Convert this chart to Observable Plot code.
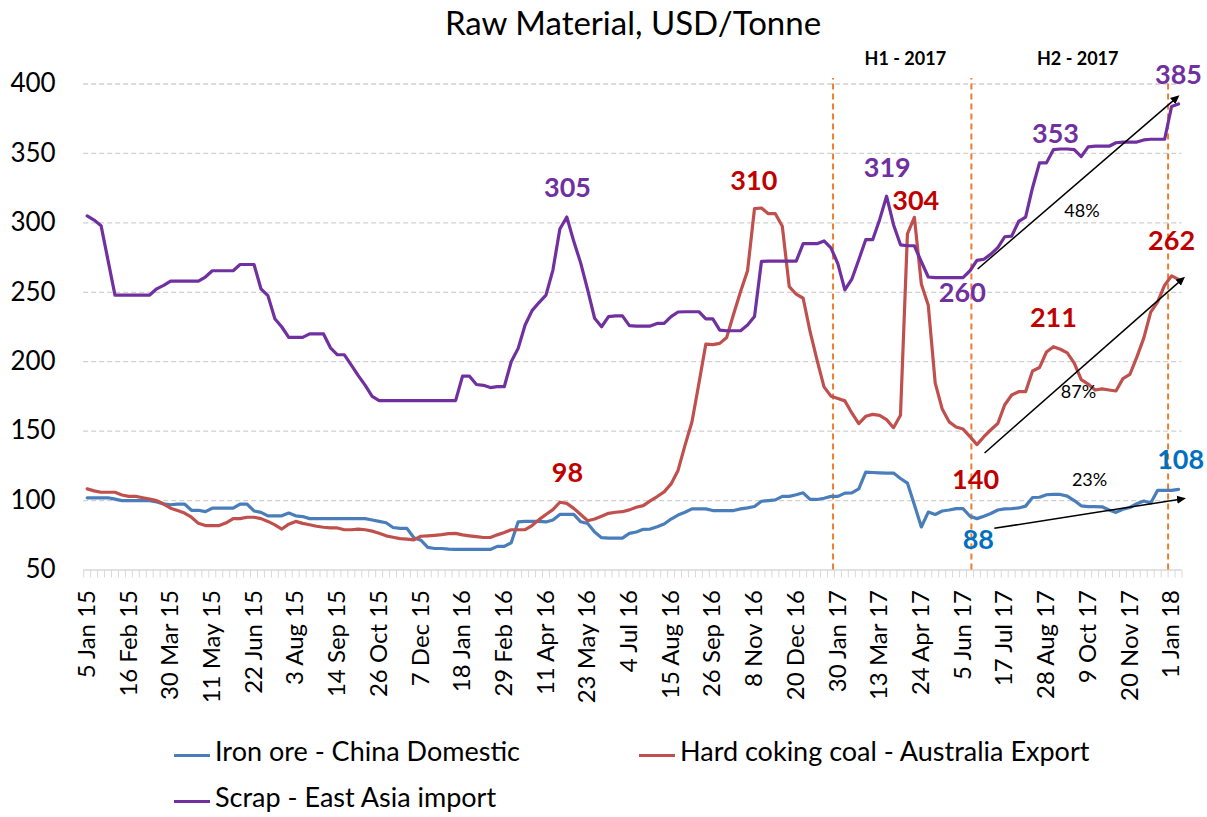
<!DOCTYPE html>
<html><head><meta charset="utf-8">
<script src="https://cdn.jsdelivr.net/npm/d3@7"></script>
<script src="https://cdn.jsdelivr.net/npm/@observablehq/plot@0.6"></script>
<style>
body{margin:0;background:#fff;font-family:Lato,"Open Sans",sans-serif;width:1207px;height:817px;overflow:hidden;position:relative;color:#000}
#title{position:absolute;left:0;top:1px;width:1266px;text-align:center;font-size:33px;line-height:42px}
#chart{position:absolute;left:0;top:42px}
.leg{position:absolute;font-size:27px;line-height:32px;white-space:nowrap}
.sw{display:inline-block;width:36px;height:3px;vertical-align:middle;margin-right:5px;position:relative;top:1px}
</style></head><body>
<div id="title">Raw Material, USD/Tonne</div>
<div id="chart"></div>
<div class="leg" style="left:174px;top:735px"><span class="sw" style="background:#4A7EBB"></span>Iron ore - China Domestic</div>
<div class="leg" style="left:639px;top:735px"><span class="sw" style="background:#C0504D"></span>Hard coking coal - Australia Export</div>
<div class="leg" style="left:174px;top:781px"><span class="sw" style="background:#7030A0"></span>Scrap - East Asia import</div>
<script>
const tickLabels = ["5 Jan 15","16 Feb 15","30 Mar 15","11 May 15","22 Jun 15","3 Aug 15","14 Sep 15","26 Oct 15","7 Dec 15","18 Jan 16","29 Feb 16","11 Apr 16","23 May 16","4 Jul 16","15 Aug 16","26 Sep 16","8 Nov 16","20 Dec 16","30 Jan 17","13 Mar 17","24 Apr 17","5 Jun 17","17 Jul 17","28 Aug 17","9 Oct 17","20 Nov 17","1 Jan 18"];
const yTicks = [50,100,150,200,250,300,350,400];

const ironOre = [
102,102,102,102,101,100,100,100,100,100,
99,97.6,97,97.5,97.5,93,93,92,94.5,94.5,
94.5,94.5,97.5,97.5,92.5,91.5,89,89,89,91,
89,88.5,87,87,87,87,87,87,87,87,
87,86,85,84,80.6,80,80,73.2,71.5,66.3,
65.5,65.5,65,64.8,64.8,64.8,64.8,64.8,64.8,67,
67,69.6,84.7,85,85,85,84.6,86,90,90,
90,84.7,83.5,77.4,73.3,73,73,73,76.4,77.4,
79.3,79.5,81.2,83.1,86.7,89.6,91.6,94,94,94,
92.8,92.8,92.8,92.8,94,94.7,95.7,99.5,100,100.5,
103,103,104.2,105.6,100.8,100.8,101.7,103,103,105.4,
105.6,108.5,120.5,120.2,120,119.8,119.8,115.9,112.6,97,
81,91.7,90,92.5,93.2,94.2,94.2,88.7,87,88.7,
90.7,93.2,94,94.2,94.7,96,102.2,102.4,104.2,104.4,
104.4,103.2,100,96.2,95.7,95.7,95.5,93.2,91.5,93.7,
95,97.7,99.7,98.2,107.4,107.4,107.4,108];

const cokingCoal = [
108.4,107,106,106,106,104,103,103,102,101,
100,97.5,94.5,92.8,91,88,83.6,82,82,82,
84,87,87,88,88,87,85,82.5,79.5,83,
85,83.6,82.6,81.5,80.8,80.3,80.3,79,79,79.5,
79,78,76.5,74.6,73.6,72.6,72.2,71.7,74.3,74.6,
75,75.5,76.2,76.4,75.3,74.6,74,73.4,73.4,75.3,
77,79,79,79,82,86.3,90,93.5,98.8,98,
94.4,90,85.5,86.7,88.7,90.8,91.6,92,93.3,95.2,
96.4,99.8,102.9,106.3,112,121.7,139.7,156.6,184.3,212.7,
212.3,213.2,217.5,234.4,250.5,265.5,310.3,310.7,306.6,306.6,
297.5,254.1,248.6,245.7,221.6,201.2,181.9,175.2,173.5,171.8,
163.1,155.4,160.7,162.1,161.4,158.3,152.5,161.4,292,304,
256,240.6,184.6,166,156.7,153,151.5,146,140.3,146,
151,155.5,169,176,178.4,178.4,193.3,195.8,207,210.8,
209,206.3,199,187.1,183.9,179.6,180.4,179.6,178.9,187.8,
190.8,203.3,217,235.7,243.1,255.1,261.8,259.3];

const scrap = [
305,302,298,273,248,248,248,248,248,248,
252.5,255,258,258,258,258,258,261,265.5,265.5,
265.5,265.5,270,270,270,252.5,247.6,231,225,217.5,
217.5,217.5,220,220,220,210,205,205,197.5,190,
183,175,172,172,172,172,172,172,172,172,
172,172,172,172,189.6,189.6,183.6,183,181.4,182,
182,200,209.6,226.4,236.8,242.6,248,266,295.6,304.2,
286.7,271,251.7,231.3,225.2,232.5,233,233,226,225.7,
225.7,225.7,227.6,227.6,232.5,235.8,236,236,236,230.8,
230.8,222.8,222.3,222.3,222.3,226.4,232.5,272.2,272.4,272.4,
272.4,272.4,272.4,285,285,285,287,282,270.5,251.7,
259.4,273.4,287.9,287.9,302.3,319.2,298.7,284.2,283.5,283.5,
272,261,260.6,260.6,260.6,260.6,260.6,265.5,273,273.8,
277.5,282.2,290,290.4,301,304.1,325.3,343.2,343.2,352.7,
353.2,353.2,352.7,347.7,354.7,355.2,355.2,355.2,357.7,358.2,
358.2,358.2,359.7,360.2,360.2,360.2,383.8,385.6];

// annotations
const phaseLineX = [107.3, 127.2, 155.5];
const phaseLabel = ["H1 - 2017", "H2 - 2017"];
const phaseLabelX = [117.7, 142.5];
const valueLabel = ["305","310","319","304","260","353","385","262","211","98","140","88","108"];
const valueLabelX = [69.1, 95.9, 115.1, 119.2, 125.9, 139.3, 157, 156, 139, 69.1, 127.8, 128.2, 157.3];
const valueLabelY = [325, 330, 339.6, 315.8, 249, 364, 406, 287, 231, 119.4, 114.4, 71.2, 128.8];
const valueLabelColor = ["#7030A0","#C00000","#7030A0","#C00000","#7030A0","#7030A0","#7030A0","#C00000","#C00000","#C00000","#C00000","#0070C0","#0070C0"];
const pctLabel = ["48%","87%","23%"];
const pctX = [143.1, 142.6, 144.2];
const pctY = [308.6, 177.7, 114.4];
const arrowX1 = [128.1, 129.1, 130.5];
const arrowY1 = [266.8, 134.3, 80];
const arrowX2 = [156.7, 157.5, 157.5];
const arrowY2 = [390, 259.3, 101.2];

const series = [
  {name: "Iron ore - China Domestic", values: ironOre, color: "#4A7EBB"},
  {name: "Hard coking coal - Australia Export", values: cokingCoal, color: "#C0504D"},
  {name: "Scrap - East Asia import", values: scrap, color: "#7030A0"}
];
const labelRows = valueLabel.map((t,i)=>({t, x: valueLabelX[i], y: valueLabelY[i], c: valueLabelColor[i]}));
const pctRows = pctLabel.map((t,i)=>({t, x: pctX[i], y: pctY[i]}));
const arrowRows = arrowX1.map((x1,i)=>({x1, y1: arrowY1[i], x2: arrowX2[i], y2: arrowY2[i]}));
const phaseRows = phaseLabel.map((t,i)=>({t, x: phaseLabelX[i]}));
const n = scrap.length;
const bounds = d3.range(n + 1).map(i => i - 0.5);
const labelIdx = tickLabels.map((_, k) => k * 6);

const svg = Plot.plot({
  width: 1207, height: 670,
  marginLeft: 83.2, marginRight: 25.5, marginTop: 41.5, marginBottom: 142.5,
  style: {fontFamily: "Lato, 'Open Sans', sans-serif", color: "#000", background: "#fff"},
  x: {type: "linear", domain: [-0.5, n - 0.5]},
  y: {domain: [50, 400]},
  marks: [
    Plot.ruleY(yTicks.slice(1), {stroke: "#d0d0d0", strokeWidth: 1.3, strokeDasharray: "5,3"}),
    Plot.axisX(bounds, {tickSize: 8, tickFormat: () => "", stroke: "#d9d9d9", label: null}),
    Plot.axisX(labelIdx, {tickSize: 0, tickPadding: 20, tickRotate: -90, tickFormat: i => tickLabels[i / 6], fontSize: 24, label: null}),
    Plot.axisY(yTicks, {tickSize: 0, tickPadding: 28, fontSize: 26, label: null}),
    Plot.ruleY([50], {stroke: "#d9d9d9", strokeWidth: 1.5}),
    Plot.ruleX(phaseLineX, {y1: 50, y2: 404, stroke: "#ED7D31", strokeWidth: 2, strokeDasharray: "6,4"}),
    ...series.map(s => Plot.lineY(s.values, {x: (d, i) => i, y: d => d, stroke: s.color, strokeWidth: 3.2})),
    Plot.link(arrowRows, {x1: "x1", y1: "y1", x2: "x2", y2: "y2", stroke: "#000", strokeWidth: 1.5, markerEnd: "arrow"}),
    Plot.text(labelRows, {x: "x", y: "y", text: "t", fill: d => d.c, fontSize: 27, fontWeight: "bold"}),
    Plot.text(pctRows, {x: "x", y: "y", text: "t", fill: "#000", fontSize: 18}),
    Plot.text(phaseRows, {x: "x", y: 418, text: "t", fill: "#000", fontSize: 18, fontWeight: "bold"})
  ]
});
d3.select(svg).selectAll("marker").attr("fill", "#000").attr("stroke", "none");
d3.select(svg).selectAll("marker path").attr("d", "M-5,-4L4,0L-5,4Z").attr("fill", "#000").attr("stroke", "none");
document.getElementById("chart").appendChild(svg);
</script>
</body></html>
